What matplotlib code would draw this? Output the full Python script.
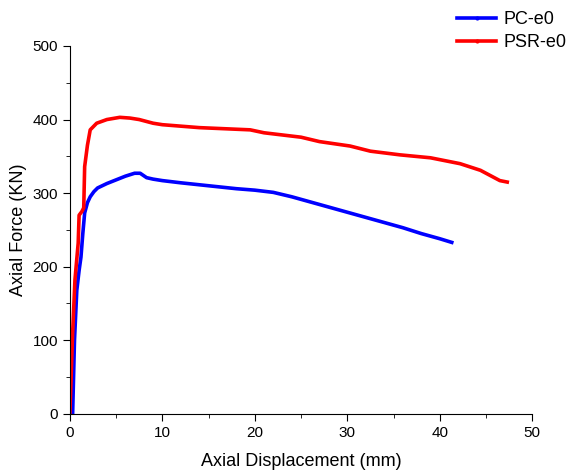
import matplotlib
matplotlib.use("Agg")
import matplotlib.pyplot as plt
from matplotlib.lines import Line2D
from matplotlib.ticker import MultipleLocator

plt.rcParams["font.family"] = ["Liberation Sans", "DejaVu Sans"]

# PC-e0 curve
pcDisp = [0.3, 0.5, 0.75, 1.0, 1.2, 1.4, 1.6, 1.9, 2.2, 2.6, 3.0, 4.0, 5.0, 6.0, 7.0, 7.6, 8.3, 9.0,
          10.0, 12.0, 15.0, 18.0, 20.0, 22.0, 24.0, 26.0, 28.0, 30.0, 32.0, 34.0, 36.0, 38.0, 40.0, 41.3]
pcForce = [0, 100, 168, 195, 213, 245, 273, 287, 295, 302, 307, 313, 318, 323, 327, 327, 321, 319,
           317, 314, 310, 306, 304, 301, 295, 288, 281, 274, 267, 260, 253, 245, 238, 233]

# PSR-e0 curve
psrDisp = [0.0, 0.3, 0.55, 0.9, 1.0, 1.3, 1.5, 1.6, 1.9, 2.2, 2.9, 4.0, 5.4, 6.5, 7.5, 9.0, 10.0,
           14.0, 19.5, 21.0, 25.0, 27.0, 30.3, 32.5, 35.7, 39.0, 42.2, 44.4, 46.5, 47.3]
psrForce = [0, 110, 182, 232, 270, 275, 280, 336, 365, 386, 395, 400, 403, 402, 400, 395, 393,
            389, 386, 382, 376, 370, 364, 357, 352, 348, 340, 331, 317, 315]

blue = "#0000FF"
red = "#FF0000"

fig = plt.figure(figsize=(5.68, 4.74), dpi=100)
ax = fig.add_axes([0.123, 0.127, 0.814, 0.776])

ax.plot(pcDisp, pcForce, color=blue, lw=2.6)
ax.plot(psrDisp, psrForce, color=red, lw=2.6)

ax.set_xlim(0, 50)
ax.set_ylim(0, 500)
ax.xaxis.set_major_locator(MultipleLocator(10))
ax.xaxis.set_minor_locator(MultipleLocator(5))
ax.yaxis.set_major_locator(MultipleLocator(100))
ax.yaxis.set_minor_locator(MultipleLocator(50))
ax.tick_params(which="both", direction="out", labelsize=11)
ax.tick_params(which="major", length=5)
ax.tick_params(which="minor", length=3)

ax.spines["top"].set_visible(False)
ax.spines["right"].set_visible(False)

ax.set_xlabel("Axial Displacement (mm)", fontsize=13, labelpad=10)
ax.set_ylabel("Axial Force (KN)", fontsize=13)

# legend entries carry the small symbol dot in the middle
handles = [Line2D([], [], color=blue, lw=2.6, marker="o", ms=2),
           Line2D([], [], color=red, lw=2.6, marker="o", ms=2)]
leg = fig.legend(handles, ["PC-e0", "PSR-e0"], loc="upper left", bbox_to_anchor=(0.785, 1.0),
                 bbox_transform=fig.transFigure, frameon=False, fontsize=13, handlelength=2.2,
                 labelspacing=0.35, handletextpad=0.4, numpoints=1, borderaxespad=0.2)

fig.savefig("out.png", dpi=100)
